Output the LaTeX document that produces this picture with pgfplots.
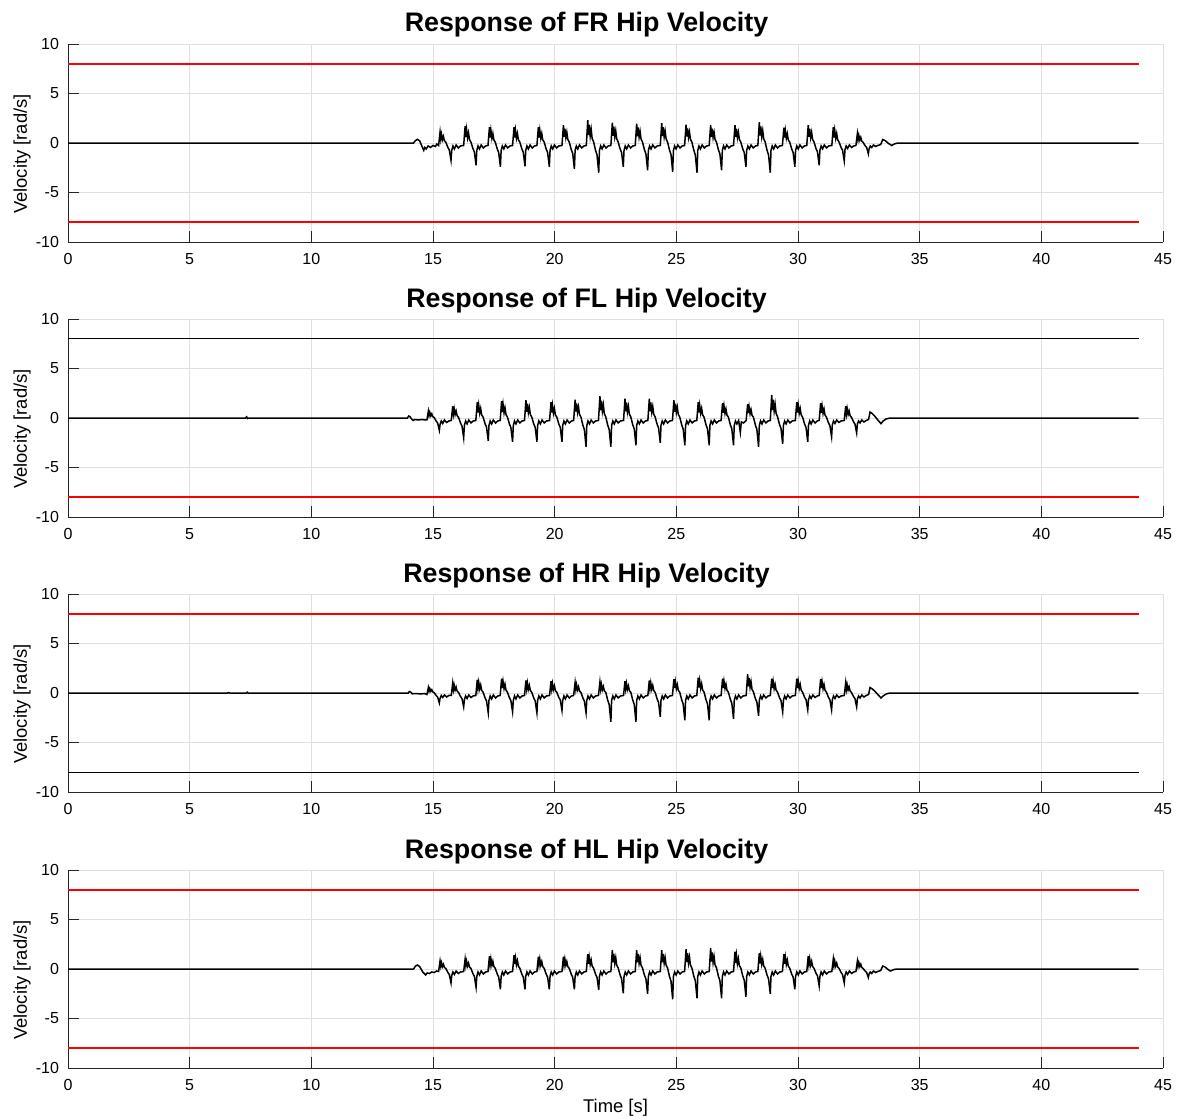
\documentclass[border=0pt]{standalone}
\usepackage{fontspec}
\setmainfont{Liberation Sans}
\usepackage{pgfplots}
\pgfplotsset{compat=1.18}
\definecolor{axgray}{RGB}{38,38,38}
\definecolor{gridgray}{RGB}{223,223,223}
\definecolor{limred}{RGB}{255,0,0}
\pgfplotsset{hipstyle/.style={
  scale only axis, width=547.5pt, height=99pt,
  xmin=0,xmax=45,ymin=-10,ymax=10,
  xtick={0,5,...,45}, ytick={-10,-5,0,5,10},
  axis x line*=bottom, axis y line*=left,
  axis line style={draw=axgray, line width=0.4pt, -},
  tick align=inside, major tick length=5.5pt,
  tick style={draw=axgray, line width=0.4pt},
  grid=major, major grid style={draw=gridgray, line width=0.4pt},
  tick label style={font=\fontsize{8}{9.6}\selectfont},
  /pgf/number format/assume math mode=true,
  xticklabel style={yshift=-2.3pt},
  yticklabel style={xshift=-1pt},
  title style={font=\bfseries\fontsize{13.4}{16}\selectfont, at={(0.5,1)}, anchor=base, xshift=-14.5pt, inner sep=0pt},
  ylabel={Velocity [rad/s]},
  ylabel style={font=\fontsize{9.2}{11}\selectfont, at={(axis description cs:-0.042,0.444)}, anchor=center},
  redline/.style={color=limred, draw=limred, line width=0.75pt, mark=none},
  blkline/.style={color=black, draw=black, line width=0.6pt, mark=none},
  sig/.style={color=black, draw=black, line width=0.75pt, mark=none},
}}
\begin{document}
\begin{tikzpicture}
\fill[white] (0,0) rectangle (590.5pt,-559.5pt);
\useasboundingbox (0,0) rectangle (590.5pt,-559.5pt);
% ---------------- FR
\begin{axis}[hipstyle, at={(34pt,-22pt)}, anchor=north west, title={Response of FR Hip Velocity}]
\addplot[sig] table[row sep=\\] {x y\\
0 0\\14.20 0\\14.28 0.25\\14.36 0.37\\14.45 0.22\\14.55 -0.35\\14.62 -0.74\\14.66 -0.45\\14.72 -0.60\\14.80 -0.30\\14.90 -0.45\\15.00 -0.25\\15.10 -0.35\\15.16 -0.10\\
15.23 -0.25\\15.29 1.10\\15.32 0.39\\15.35 0.88\\15.39 0.33\\15.43 0.66\\15.47 0.22\\15.53 0.06\\15.61 -0.44\\15.67 -0.70\\15.74 -1.75\\15.77 -0.75\\15.82 -0.30\\15.88 -0.60\\15.95 -0.20\\16.04 -0.50\\16.13 -0.30\\
16.26 -0.25\\16.32 1.70\\16.35 0.60\\16.38 1.36\\16.42 0.51\\16.46 1.02\\16.50 0.34\\16.56 0.09\\16.64 -0.56\\16.70 -0.90\\16.77 -2.25\\16.80 -0.75\\16.85 -0.30\\16.91 -0.60\\16.98 -0.20\\17.07 -0.50\\17.16 -0.30\\
17.26 -0.25\\17.32 1.60\\17.35 0.56\\17.38 1.28\\17.42 0.48\\17.46 0.96\\17.50 0.32\\17.56 0.08\\17.64 -0.60\\17.70 -0.96\\17.77 -2.40\\17.80 -0.75\\17.85 -0.30\\17.91 -0.60\\17.98 -0.20\\18.07 -0.50\\18.16 -0.30\\
18.27 -0.25\\18.33 1.60\\18.36 0.56\\18.39 1.28\\18.43 0.48\\18.47 0.96\\18.51 0.32\\18.57 0.08\\18.65 -0.59\\18.71 -0.94\\18.78 -2.35\\18.81 -0.75\\18.86 -0.30\\18.92 -0.60\\18.99 -0.20\\19.08 -0.50\\19.17 -0.30\\
19.27 -0.25\\19.33 1.60\\19.36 0.56\\19.39 1.28\\19.43 0.48\\19.47 0.96\\19.51 0.32\\19.57 0.08\\19.65 -0.60\\19.71 -0.96\\19.78 -2.40\\19.81 -0.75\\19.86 -0.30\\19.92 -0.60\\19.99 -0.20\\20.08 -0.50\\20.17 -0.30\\
20.30 -0.25\\20.36 1.80\\20.39 0.63\\20.42 1.44\\20.46 0.54\\20.50 1.08\\20.54 0.36\\20.60 0.09\\20.68 -0.65\\20.74 -1.04\\20.81 -2.60\\20.84 -0.75\\20.89 -0.30\\20.95 -0.60\\21.02 -0.20\\21.11 -0.50\\21.20 -0.30\\
21.30 -0.25\\21.36 2.30\\21.39 0.81\\21.42 1.84\\21.46 0.69\\21.50 1.38\\21.54 0.46\\21.60 0.12\\21.68 -0.75\\21.74 -1.20\\21.81 -3.00\\21.84 -0.75\\21.89 -0.30\\21.95 -0.60\\22.02 -0.20\\22.11 -0.50\\22.20 -0.30\\
22.31 -0.25\\22.37 2.05\\22.40 0.72\\22.43 1.64\\22.47 0.62\\22.51 1.23\\22.55 0.41\\22.61 0.10\\22.69 -0.60\\22.75 -0.96\\22.82 -2.40\\22.85 -0.75\\22.90 -0.30\\22.96 -0.60\\23.03 -0.20\\23.12 -0.50\\23.21 -0.30\\
23.31 -0.25\\23.37 1.95\\23.40 0.68\\23.43 1.56\\23.47 0.59\\23.51 1.17\\23.55 0.39\\23.61 0.10\\23.69 -0.69\\23.75 -1.10\\23.82 -2.75\\23.85 -0.75\\23.90 -0.30\\23.96 -0.60\\24.03 -0.20\\24.12 -0.50\\24.21 -0.30\\
24.34 -0.25\\24.40 2.00\\24.43 0.70\\24.46 1.60\\24.50 0.60\\24.54 1.20\\24.58 0.40\\24.64 0.10\\24.72 -0.73\\24.78 -1.16\\24.85 -2.90\\24.88 -0.75\\24.93 -0.30\\24.99 -0.60\\25.06 -0.20\\25.15 -0.50\\25.24 -0.30\\
25.34 -0.25\\25.40 1.85\\25.43 0.65\\25.46 1.48\\25.50 0.56\\25.54 1.11\\25.58 0.37\\25.64 0.09\\25.72 -0.75\\25.78 -1.20\\25.85 -3.00\\25.88 -0.75\\25.93 -0.30\\25.99 -0.60\\26.06 -0.20\\26.15 -0.50\\26.24 -0.30\\
26.35 -0.25\\26.41 1.80\\26.44 0.63\\26.47 1.44\\26.51 0.54\\26.55 1.08\\26.59 0.36\\26.65 0.09\\26.73 -0.69\\26.79 -1.10\\26.86 -2.75\\26.89 -0.75\\26.94 -0.30\\27.00 -0.60\\27.07 -0.20\\27.16 -0.50\\27.25 -0.30\\
27.35 -0.25\\27.41 1.80\\27.44 0.63\\27.47 1.44\\27.51 0.54\\27.55 1.08\\27.59 0.36\\27.65 0.09\\27.73 -0.60\\27.79 -0.96\\27.86 -2.40\\27.89 -0.75\\27.94 -0.30\\28.00 -0.60\\28.07 -0.20\\28.16 -0.50\\28.25 -0.30\\
28.35 -0.25\\28.41 2.10\\28.44 0.74\\28.47 1.68\\28.51 0.63\\28.55 1.26\\28.59 0.42\\28.65 0.11\\28.73 -0.75\\28.79 -1.20\\28.86 -3.00\\28.89 -0.75\\28.94 -0.30\\29.00 -0.60\\29.07 -0.20\\29.16 -0.50\\29.25 -0.30\\
29.36 -0.25\\29.42 1.55\\29.45 0.54\\29.48 1.24\\29.52 0.47\\29.56 0.93\\29.60 0.31\\29.66 0.08\\29.74 -0.60\\29.80 -0.96\\29.87 -2.40\\29.90 -0.75\\29.95 -0.30\\30.01 -0.60\\30.08 -0.20\\30.17 -0.50\\30.26 -0.30\\
30.36 -0.25\\30.42 1.80\\30.45 0.63\\30.48 1.44\\30.52 0.54\\30.56 1.08\\30.60 0.36\\30.66 0.09\\30.74 -0.56\\30.80 -0.90\\30.87 -2.25\\30.90 -0.75\\30.95 -0.30\\31.01 -0.60\\31.08 -0.20\\31.17 -0.50\\31.26 -0.30\\
31.39 -0.25\\31.45 1.60\\31.48 0.56\\31.51 1.28\\31.55 0.48\\31.59 0.96\\31.63 0.32\\31.69 0.08\\31.77 -0.45\\31.83 -0.72\\31.90 -1.80\\31.93 -0.70\\31.98 -0.30\\32.04 -0.55\\32.11 -0.20\\32.20 -0.45\\32.29 -0.30\\
32.38 -0.25\\32.44 0.95\\32.47 0.33\\32.50 0.76\\32.54 0.29\\32.58 0.57\\32.62 0.19\\32.68 0.05\\32.76 -0.28\\32.82 -0.44\\32.89 -1.10\\32.92 -0.60\\32.97 -0.30\\33.03 -0.45\\33.10 -0.20\\33.19 -0.35\\33.28 -0.25\\
33.40 -0.15\\33.48 0.35\\33.58 0.25\\33.72 -0.05\\33.85 -0.25\\33.98 -0.08\\34.10 0\\44 0\\
};
\addplot[redline] coordinates {(0,8) (44,8)};
\addplot[redline] coordinates {(0,-8) (44,-8)};
\end{axis}
% ---------------- FL
\begin{axis}[hipstyle, at={(34pt,-159.5pt)}, anchor=north west, title={Response of FL Hip Velocity}]
\addplot[sig] table[row sep=\\] {x y\\
0 0\\7.30 0\\7.34 0.12\\7.38 -0.05\\7.42 0\\13.95 0\\14.00 0.20\\14.05 0.15\\14.12 -0.10\\14.18 -0.25\\14.25 -0.15\\14.40 -0.20\\14.55 -0.15\\14.68 -0.20\\
14.75 -0.20\\14.81 0.70\\14.84 0.25\\14.87 0.56\\14.91 0.21\\14.95 0.42\\14.99 0.14\\15.05 0.04\\15.13 -0.31\\15.19 -0.50\\15.26 -1.25\\15.29 -0.65\\15.34 -0.30\\15.40 -0.55\\15.47 -0.20\\15.56 -0.45\\15.65 -0.30\\
15.75 -0.25\\15.81 1.18\\15.84 0.41\\15.87 0.94\\15.91 0.35\\15.95 0.71\\15.99 0.24\\16.05 0.06\\16.13 -0.50\\16.19 -0.80\\16.26 -2.00\\16.29 -0.75\\16.34 -0.30\\16.40 -0.60\\16.47 -0.20\\16.56 -0.50\\16.65 -0.30\\
16.76 -0.25\\16.82 1.60\\16.85 0.56\\16.88 1.28\\16.92 0.48\\16.96 0.96\\17.00 0.32\\17.06 0.08\\17.14 -0.58\\17.20 -0.92\\17.27 -2.30\\17.30 -0.75\\17.35 -0.30\\17.41 -0.60\\17.48 -0.20\\17.57 -0.50\\17.66 -0.30\\
17.76 -0.25\\17.82 1.70\\17.85 0.60\\17.88 1.36\\17.92 0.51\\17.96 1.02\\18.00 0.34\\18.06 0.09\\18.14 -0.60\\18.20 -0.96\\18.27 -2.40\\18.30 -0.75\\18.35 -0.30\\18.41 -0.60\\18.48 -0.20\\18.57 -0.50\\18.66 -0.30\\
18.76 -0.25\\18.82 1.80\\18.85 0.63\\18.88 1.44\\18.92 0.54\\18.96 1.08\\19.00 0.36\\19.06 0.09\\19.14 -0.60\\19.20 -0.96\\19.27 -2.40\\19.30 -0.75\\19.35 -0.30\\19.41 -0.60\\19.48 -0.20\\19.57 -0.50\\19.66 -0.30\\
19.79 -0.25\\19.85 1.60\\19.88 0.56\\19.91 1.28\\19.95 0.48\\19.99 0.96\\20.03 0.32\\20.09 0.08\\20.17 -0.60\\20.23 -0.96\\20.30 -2.40\\20.33 -0.75\\20.38 -0.30\\20.44 -0.60\\20.51 -0.20\\20.60 -0.50\\20.69 -0.30\\
20.78 -0.25\\20.84 1.85\\20.87 0.65\\20.90 1.48\\20.94 0.56\\20.98 1.11\\21.02 0.37\\21.08 0.09\\21.16 -0.73\\21.22 -1.16\\21.29 -2.90\\21.32 -0.75\\21.37 -0.30\\21.43 -0.60\\21.50 -0.20\\21.59 -0.50\\21.68 -0.30\\
21.80 -0.25\\21.86 2.20\\21.89 0.77\\21.92 1.76\\21.96 0.66\\22.00 1.32\\22.04 0.44\\22.10 0.11\\22.18 -0.73\\22.24 -1.16\\22.31 -2.90\\22.34 -0.75\\22.39 -0.30\\22.45 -0.60\\22.52 -0.20\\22.61 -0.50\\22.70 -0.30\\
22.83 -0.25\\22.89 1.95\\22.92 0.68\\22.95 1.56\\22.99 0.59\\23.03 1.17\\23.07 0.39\\23.13 0.10\\23.21 -0.69\\23.27 -1.10\\23.34 -2.75\\23.37 -0.75\\23.42 -0.30\\23.48 -0.60\\23.55 -0.20\\23.64 -0.50\\23.73 -0.30\\
23.83 -0.25\\23.89 1.95\\23.92 0.68\\23.95 1.56\\23.99 0.59\\24.03 1.17\\24.07 0.39\\24.13 0.10\\24.21 -0.63\\24.27 -1.00\\24.34 -2.50\\24.37 -0.75\\24.42 -0.30\\24.48 -0.60\\24.55 -0.20\\24.64 -0.50\\24.73 -0.30\\
24.84 -0.25\\24.90 1.80\\24.93 0.63\\24.96 1.44\\25.00 0.54\\25.04 1.08\\25.08 0.36\\25.14 0.09\\25.22 -0.69\\25.28 -1.10\\25.35 -2.75\\25.38 -0.75\\25.43 -0.30\\25.49 -0.60\\25.56 -0.20\\25.65 -0.50\\25.74 -0.30\\
25.84 -0.25\\25.90 1.60\\25.93 0.56\\25.96 1.28\\26.00 0.48\\26.04 0.96\\26.08 0.32\\26.14 0.08\\26.22 -0.69\\26.28 -1.10\\26.35 -2.75\\26.38 -0.75\\26.43 -0.30\\26.49 -0.60\\26.56 -0.20\\26.65 -0.50\\26.74 -0.30\\
26.84 -0.25\\26.90 1.50\\26.93 0.53\\26.96 1.20\\27.00 0.45\\27.04 0.90\\27.08 0.30\\27.14 0.08\\27.22 -0.69\\27.28 -1.10\\27.35 -2.75\\27.38 -0.75\\27.43 -0.30\\27.49 -0.60\\27.56 -0.25\\27.63 -1.45\\27.67 -0.40\\27.76 -0.50\\
27.87 -0.25\\27.93 1.40\\27.96 0.49\\27.99 1.12\\28.03 0.42\\28.07 0.84\\28.11 0.28\\28.17 0.07\\28.25 -0.73\\28.31 -1.16\\28.38 -2.90\\28.41 -0.75\\28.46 -0.30\\28.52 -0.60\\28.59 -0.20\\28.68 -0.50\\28.77 -0.30\\
28.86 -0.25\\28.92 2.30\\28.95 0.81\\28.98 1.84\\29.02 0.69\\29.06 1.38\\29.10 0.46\\29.16 0.12\\29.24 -0.65\\29.30 -1.04\\29.37 -2.60\\29.40 -0.75\\29.45 -0.30\\29.51 -0.60\\29.58 -0.20\\29.67 -0.50\\29.76 -0.30\\
29.89 -0.25\\29.95 1.60\\29.98 0.56\\30.01 1.28\\30.05 0.48\\30.09 0.96\\30.13 0.32\\30.19 0.08\\30.27 -0.60\\30.33 -0.96\\30.40 -2.40\\30.43 -0.75\\30.48 -0.30\\30.54 -0.60\\30.61 -0.20\\30.70 -0.50\\30.79 -0.30\\
30.87 -0.25\\30.93 1.50\\30.96 0.53\\30.99 1.20\\31.03 0.45\\31.07 0.90\\31.11 0.30\\31.17 0.08\\31.25 -0.48\\31.31 -0.76\\31.38 -1.90\\31.41 -0.70\\31.46 -0.30\\31.52 -0.55\\31.59 -0.20\\31.68 -0.45\\31.77 -0.30\\
31.90 -0.25\\31.96 1.20\\31.99 0.42\\32.02 0.96\\32.06 0.36\\32.10 0.72\\32.14 0.24\\32.20 0.06\\32.28 -0.38\\32.34 -0.60\\32.41 -1.50\\32.44 -0.60\\32.49 -0.30\\32.55 -0.50\\32.62 -0.20\\32.71 -0.40\\32.80 -0.25\\
32.90 -0.15\\32.96 0.60\\33.05 0.45\\33.15 0.20\\33.28 -0.20\\33.41 -0.57\\33.50 -0.30\\33.62 -0.10\\33.78 0\\44 0\\
};
\addplot[blkline] coordinates {(0,8) (44,8)};
\addplot[redline] coordinates {(0,-8) (44,-8)};
\end{axis}
% ---------------- HR
\begin{axis}[hipstyle, at={(34pt,-297pt)}, anchor=north west, title={Response of HR Hip Velocity}]
\addplot[sig] table[row sep=\\] {x y\\
0 0\\6.55 0\\6.60 0.04\\6.65 0\\7.33 0\\7.37 0.08\\7.41 -0.03\\7.45 0\\13.98 0\\14.03 0.15\\14.08 0.10\\14.15 -0.08\\14.30 -0.05\\14.50 -0.10\\14.65 -0.05\\
14.75 -0.15\\14.81 0.55\\14.84 0.19\\14.87 0.44\\14.91 0.17\\14.95 0.33\\14.99 0.11\\15.05 0.03\\15.13 -0.25\\15.19 -0.40\\15.26 -1.00\\15.29 -0.55\\15.34 -0.25\\15.40 -0.45\\15.47 -0.20\\15.56 -0.40\\15.65 -0.25\\
15.75 -0.25\\15.81 1.00\\15.84 0.35\\15.87 0.80\\15.91 0.30\\15.95 0.60\\15.99 0.20\\16.05 0.05\\16.13 -0.35\\16.19 -0.56\\16.26 -1.40\\16.29 -0.65\\16.34 -0.30\\16.40 -0.55\\16.47 -0.20\\16.56 -0.45\\16.65 -0.30\\
16.76 -0.25\\16.82 1.35\\16.85 0.47\\16.88 1.08\\16.92 0.41\\16.96 0.81\\17.00 0.27\\17.06 0.07\\17.14 -0.50\\17.20 -0.80\\17.27 -2.00\\17.30 -0.75\\17.35 -0.30\\17.41 -0.60\\17.48 -0.20\\17.57 -0.50\\17.66 -0.30\\
17.76 -0.25\\17.82 1.45\\17.85 0.51\\17.88 1.16\\17.92 0.44\\17.96 0.87\\18.00 0.29\\18.06 0.07\\18.14 -0.48\\18.20 -0.76\\18.27 -1.90\\18.30 -0.75\\18.35 -0.30\\18.41 -0.60\\18.48 -0.20\\18.57 -0.50\\18.66 -0.30\\
18.76 -0.25\\18.82 1.28\\18.85 0.45\\18.88 1.02\\18.92 0.38\\18.96 0.77\\19.00 0.26\\19.06 0.06\\19.14 -0.50\\19.20 -0.80\\19.27 -2.00\\19.30 -0.75\\19.35 -0.30\\19.41 -0.60\\19.48 -0.20\\19.57 -0.50\\19.66 -0.30\\
19.79 -0.25\\19.85 1.20\\19.88 0.42\\19.91 0.96\\19.95 0.36\\19.99 0.72\\20.03 0.24\\20.09 0.06\\20.17 -0.44\\20.23 -0.70\\20.30 -1.75\\20.33 -0.75\\20.38 -0.30\\20.44 -0.60\\20.51 -0.20\\20.60 -0.50\\20.69 -0.30\\
20.78 -0.25\\20.84 1.05\\20.87 0.37\\20.90 0.84\\20.94 0.32\\20.98 0.63\\21.02 0.21\\21.08 0.05\\21.16 -0.50\\21.22 -0.80\\21.29 -2.00\\21.32 -0.75\\21.37 -0.30\\21.43 -0.60\\21.50 -0.20\\21.59 -0.50\\21.68 -0.30\\
21.80 -0.25\\21.86 1.10\\21.89 0.39\\21.92 0.88\\21.96 0.33\\22.00 0.66\\22.04 0.22\\22.10 0.06\\22.18 -0.73\\22.24 -1.16\\22.31 -2.90\\22.34 -0.75\\22.39 -0.30\\22.45 -0.60\\22.52 -0.20\\22.61 -0.50\\22.70 -0.30\\
22.83 -0.25\\22.89 1.20\\22.92 0.42\\22.95 0.96\\22.99 0.36\\23.03 0.72\\23.07 0.24\\23.13 0.06\\23.21 -0.73\\23.27 -1.16\\23.34 -2.90\\23.37 -0.75\\23.42 -0.30\\23.48 -0.60\\23.55 -0.20\\23.64 -0.50\\23.73 -0.30\\
23.83 -0.25\\23.89 1.28\\23.92 0.45\\23.95 1.02\\23.99 0.38\\24.03 0.77\\24.07 0.26\\24.13 0.06\\24.21 -0.60\\24.27 -0.96\\24.34 -2.40\\24.37 -0.75\\24.42 -0.30\\24.48 -0.60\\24.55 -0.20\\24.64 -0.50\\24.73 -0.30\\
24.84 -0.25\\24.90 1.40\\24.93 0.49\\24.96 1.12\\25.00 0.42\\25.04 0.84\\25.08 0.28\\25.14 0.07\\25.22 -0.69\\25.28 -1.10\\25.35 -2.75\\25.38 -0.75\\25.43 -0.30\\25.49 -0.60\\25.56 -0.20\\25.65 -0.50\\25.74 -0.30\\
25.84 -0.25\\25.90 1.55\\25.93 0.54\\25.96 1.24\\26.00 0.47\\26.04 0.93\\26.08 0.31\\26.14 0.08\\26.22 -0.69\\26.28 -1.10\\26.35 -2.75\\26.38 -0.75\\26.43 -0.30\\26.49 -0.60\\26.56 -0.20\\26.65 -0.50\\26.74 -0.30\\
26.84 -0.25\\26.90 1.45\\26.93 0.51\\26.96 1.16\\27.00 0.44\\27.04 0.87\\27.08 0.29\\27.14 0.07\\27.22 -0.65\\27.28 -1.04\\27.35 -2.60\\27.38 -0.75\\27.43 -0.30\\27.49 -0.60\\27.56 -0.20\\27.65 -0.50\\27.74 -0.30\\
27.87 -0.25\\27.93 1.90\\27.96 0.67\\27.99 1.52\\28.03 0.57\\28.07 1.14\\28.11 0.38\\28.17 0.10\\28.25 -0.58\\28.31 -0.92\\28.38 -2.30\\28.41 -0.75\\28.46 -0.30\\28.52 -0.60\\28.59 -0.20\\28.68 -0.50\\28.77 -0.30\\
28.86 -0.25\\28.92 1.45\\28.95 0.51\\28.98 1.16\\29.02 0.44\\29.06 0.87\\29.10 0.29\\29.16 0.07\\29.24 -0.48\\29.30 -0.76\\29.37 -1.90\\29.40 -0.75\\29.45 -0.30\\29.51 -0.60\\29.58 -0.20\\29.67 -0.50\\29.76 -0.30\\
29.89 -0.25\\29.95 1.45\\29.98 0.51\\30.01 1.16\\30.05 0.44\\30.09 0.87\\30.13 0.29\\30.19 0.07\\30.27 -0.43\\30.33 -0.68\\30.40 -1.70\\30.43 -0.70\\30.48 -0.30\\30.54 -0.55\\30.61 -0.20\\30.70 -0.45\\30.79 -0.30\\
30.87 -0.25\\30.93 1.40\\30.96 0.49\\30.99 1.12\\31.03 0.42\\31.07 0.84\\31.11 0.28\\31.17 0.07\\31.25 -0.43\\31.31 -0.68\\31.38 -1.70\\31.41 -0.70\\31.46 -0.30\\31.52 -0.55\\31.59 -0.20\\31.68 -0.45\\31.77 -0.30\\
31.90 -0.25\\31.96 1.05\\31.99 0.37\\32.02 0.84\\32.06 0.32\\32.10 0.63\\32.14 0.21\\32.20 0.05\\32.28 -0.35\\32.34 -0.56\\32.41 -1.40\\32.44 -0.60\\32.49 -0.30\\32.55 -0.50\\32.62 -0.20\\32.71 -0.40\\32.80 -0.25\\
32.90 -0.15\\32.96 0.55\\33.05 0.42\\33.15 0.20\\33.28 -0.15\\33.41 -0.50\\33.50 -0.30\\33.62 -0.10\\33.78 0\\44 0\\
};
\addplot[redline] coordinates {(0,8) (44,8)};
\addplot[blkline] coordinates {(0,-8) (44,-8)};
\end{axis}
% ---------------- HL
\begin{axis}[hipstyle, at={(34pt,-435pt)}, anchor=north west, title={Response of HL Hip Velocity},
  xlabel={Time [s]}, xlabel style={font=\fontsize{9.2}{11}\selectfont, at={(axis description cs:0.5,-0.2222)}, anchor=base}]
\addplot[sig] table[row sep=\\] {x y\\
0 0\\14.20 0\\14.28 0.30\\14.36 0.40\\14.45 0.25\\14.58 -0.30\\14.70 -0.60\\14.76 -0.40\\14.85 -0.45\\14.95 -0.30\\15.05 -0.35\\15.15 -0.20\\
15.23 -0.25\\15.29 0.80\\15.32 0.28\\15.35 0.64\\15.39 0.24\\15.43 0.48\\15.47 0.16\\15.53 0.04\\15.61 -0.35\\15.67 -0.56\\15.74 -1.40\\15.77 -0.65\\15.82 -0.30\\15.88 -0.55\\15.95 -0.20\\16.04 -0.45\\16.13 -0.30\\
16.26 -0.25\\16.32 1.00\\16.35 0.35\\16.38 0.80\\16.42 0.30\\16.46 0.60\\16.50 0.20\\16.56 0.05\\16.64 -0.46\\16.70 -0.74\\16.77 -1.85\\16.80 -0.75\\16.85 -0.30\\16.91 -0.60\\16.98 -0.20\\17.07 -0.50\\17.16 -0.30\\
17.26 -0.25\\17.32 1.30\\17.35 0.46\\17.38 1.04\\17.42 0.39\\17.46 0.78\\17.50 0.26\\17.56 0.07\\17.64 -0.51\\17.70 -0.82\\17.77 -2.05\\17.80 -0.75\\17.85 -0.30\\17.91 -0.60\\17.98 -0.20\\18.07 -0.50\\18.16 -0.30\\
18.27 -0.25\\18.33 1.40\\18.36 0.49\\18.39 1.12\\18.43 0.42\\18.47 0.84\\18.51 0.28\\18.57 0.07\\18.65 -0.51\\18.71 -0.82\\18.78 -2.05\\18.81 -0.75\\18.86 -0.30\\18.92 -0.60\\18.99 -0.20\\19.08 -0.50\\19.17 -0.30\\
19.27 -0.25\\19.33 1.25\\19.36 0.44\\19.39 1.00\\19.43 0.38\\19.47 0.75\\19.51 0.25\\19.57 0.06\\19.65 -0.51\\19.71 -0.82\\19.78 -2.05\\19.81 -0.75\\19.86 -0.30\\19.92 -0.60\\19.99 -0.20\\20.08 -0.50\\20.17 -0.30\\
20.30 -0.25\\20.36 1.25\\20.39 0.44\\20.42 1.00\\20.46 0.38\\20.50 0.75\\20.54 0.25\\20.60 0.06\\20.68 -0.51\\20.74 -0.82\\20.81 -2.05\\20.84 -0.75\\20.89 -0.30\\20.95 -0.60\\21.02 -0.20\\21.11 -0.50\\21.20 -0.30\\
21.30 -0.25\\21.36 1.50\\21.39 0.53\\21.42 1.20\\21.46 0.45\\21.50 0.90\\21.54 0.30\\21.60 0.08\\21.68 -0.53\\21.74 -0.84\\21.81 -2.10\\21.84 -0.75\\21.89 -0.30\\21.95 -0.60\\22.02 -0.20\\22.11 -0.50\\22.20 -0.30\\
22.31 -0.25\\22.37 1.90\\22.40 0.67\\22.43 1.52\\22.47 0.57\\22.51 1.14\\22.55 0.38\\22.61 0.10\\22.69 -0.61\\22.75 -0.98\\22.82 -2.45\\22.85 -0.75\\22.90 -0.30\\22.96 -0.60\\23.03 -0.20\\23.12 -0.50\\23.21 -0.30\\
23.31 -0.25\\23.37 1.90\\23.40 0.67\\23.43 1.52\\23.47 0.57\\23.51 1.14\\23.55 0.38\\23.61 0.10\\23.69 -0.63\\23.75 -1.00\\23.82 -2.50\\23.85 -0.75\\23.90 -0.30\\23.96 -0.60\\24.03 -0.20\\24.12 -0.50\\24.21 -0.30\\
24.34 -0.25\\24.40 1.90\\24.43 0.67\\24.46 1.52\\24.50 0.57\\24.54 1.14\\24.58 0.38\\24.64 0.10\\24.72 -0.76\\24.78 -1.22\\24.85 -3.05\\24.88 -0.75\\24.93 -0.30\\24.99 -0.60\\25.06 -0.20\\25.15 -0.50\\25.24 -0.30\\
25.34 -0.25\\25.40 2.00\\25.43 0.70\\25.46 1.60\\25.50 0.60\\25.54 1.20\\25.58 0.40\\25.64 0.10\\25.72 -0.74\\25.78 -1.18\\25.85 -2.95\\25.88 -0.75\\25.93 -0.30\\25.99 -0.60\\26.06 -0.20\\26.15 -0.50\\26.24 -0.30\\
26.35 -0.25\\26.41 2.10\\26.44 0.74\\26.47 1.68\\26.51 0.63\\26.55 1.26\\26.59 0.42\\26.65 0.11\\26.73 -0.74\\26.79 -1.18\\26.86 -2.95\\26.89 -0.75\\26.94 -0.30\\27.00 -0.60\\27.07 -0.20\\27.16 -0.50\\27.25 -0.30\\
27.35 -0.25\\27.41 1.75\\27.44 0.61\\27.47 1.40\\27.51 0.53\\27.55 1.05\\27.59 0.35\\27.65 0.09\\27.73 -0.70\\27.79 -1.12\\27.86 -2.80\\27.89 -0.75\\27.94 -0.30\\28.00 -0.60\\28.07 -0.20\\28.16 -0.50\\28.25 -0.30\\
28.35 -0.25\\28.41 1.60\\28.44 0.56\\28.47 1.28\\28.51 0.48\\28.55 0.96\\28.59 0.32\\28.65 0.08\\28.73 -0.63\\28.79 -1.00\\28.86 -2.50\\28.89 -0.75\\28.94 -0.30\\29.00 -0.60\\29.07 -0.20\\29.16 -0.50\\29.25 -0.30\\
29.36 -0.25\\29.42 1.50\\29.45 0.53\\29.48 1.20\\29.52 0.45\\29.56 0.90\\29.60 0.30\\29.66 0.08\\29.74 -0.51\\29.80 -0.82\\29.87 -2.05\\29.90 -0.75\\29.95 -0.30\\30.01 -0.60\\30.08 -0.20\\30.17 -0.50\\30.26 -0.30\\
30.36 -0.25\\30.42 1.30\\30.45 0.46\\30.48 1.04\\30.52 0.39\\30.56 0.78\\30.60 0.26\\30.66 0.07\\30.74 -0.43\\30.80 -0.68\\30.87 -1.70\\30.90 -0.75\\30.95 -0.30\\31.01 -0.60\\31.08 -0.20\\31.17 -0.50\\31.26 -0.30\\
31.39 -0.25\\31.45 1.00\\31.48 0.35\\31.51 0.80\\31.55 0.30\\31.59 0.60\\31.63 0.20\\31.69 0.05\\31.77 -0.35\\31.83 -0.56\\31.90 -1.40\\31.93 -0.65\\31.98 -0.30\\32.04 -0.55\\32.11 -0.20\\32.20 -0.45\\32.29 -0.30\\
32.38 -0.25\\32.44 0.80\\32.47 0.28\\32.50 0.64\\32.54 0.24\\32.58 0.48\\32.62 0.16\\32.68 0.04\\32.76 -0.21\\32.82 -0.34\\32.89 -0.85\\32.92 -0.50\\32.97 -0.30\\33.03 -0.45\\33.10 -0.20\\33.19 -0.35\\33.28 -0.25\\
33.40 -0.15\\33.48 0.30\\33.58 0.20\\33.70 -0.05\\33.80 -0.20\\33.95 -0.05\\34.06 0\\44 0\\
};
\addplot[redline] coordinates {(0,8) (44,8)};
\addplot[redline] coordinates {(0,-8) (44,-8)};
\end{axis}
\end{tikzpicture}
\end{document}
